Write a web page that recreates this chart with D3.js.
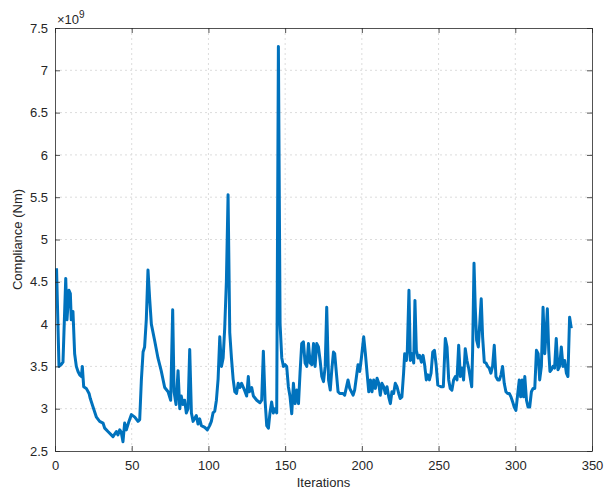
<!DOCTYPE html>
<html>
<head>
<meta charset="utf-8">
<script src="https://cdn.jsdelivr.net/npm/d3@7"></script>
<style>
  html, body { margin: 0; padding: 0; background: #fff; }
  svg { display: block; }
</style>
</head>
<body>
<svg id="chart" width="605" height="490"></svg>
<script>
// ---- Data (compliance in units of 1e9 Nm) ----
const iterations = [
  1, 2.6, 3.9, 5.2, 7, 7.8, 9.1, 10, 10.6, 11.7, 12.8, 13.9, 15, 16.1, 17.2, 17.8, 18.7, 20.4, 22.2, 23,
  24.8, 27, 29.1, 31.3, 32.4, 34.5, 36.7, 37.8, 40, 41, 42.2, 43.2, 44.3, 45.4, 46.5, 48.2, 49.8, 52, 54.1, 55.2,
  56.3, 57.4, 58.4, 59.5, 60.6, 61.7, 62.8, 65, 67.1, 69.2, 71.5, 73.7, 75.4, 76.7, 77.6, 78.9, 80.2, 81.3, 82.3, 83.4,
  84.5, 85.6, 86.7, 87.8, 88.9, 90, 92.1, 93.2, 94.3, 95.4, 97.6, 99.3, 100.8, 101.9, 103, 104.1, 105.2, 106.3, 107.4, 108.5,
  109.6, 110.6, 111.7, 112.8, 113.9, 115, 116.1, 117.2, 118.3, 119.4, 120.5, 121.6, 122.8, 123.9, 124.9, 126, 126.7, 128.2, 129.3, 131.5,
  133.6, 134.7, 135.8, 136.9, 138, 139.1, 140.1, 141.2, 142.3, 143.4, 144.5, 145.6, 146.7, 147.8, 148.9, 150, 151, 152.1, 153.2, 154.3,
  155.4, 156.5, 157.6, 158.7, 159.7, 160.8, 161.9, 163, 164.1, 165.2, 166.3, 167.4, 168.5, 169.5, 170.6, 171.7, 172.8, 173.9, 175, 176.1,
  177.1, 178.3, 179.4, 180.4, 181.5, 182.3, 183.4, 184.5, 185.6, 187.7, 188.8, 191, 192.1, 193.2, 194.3, 195.3, 197.5, 198.6, 199.7, 201.2,
  202.3, 203.4, 204.5, 205.6, 206.6, 207.7, 208.8, 209.9, 211, 212, 213.1, 214.2, 215.3, 216.4, 217.5, 218.6, 219.6, 220.7, 221.8, 222.9,
  224, 225, 226.1, 227.2, 227.9, 229, 229.6, 230.7, 231.6, 232.7, 233.8, 234.6, 235.5, 236.6, 237.7, 238.8, 239.9, 240.9, 242, 243,
  244, 245.1, 246.2, 247.3, 248.4, 249.5, 251.6, 253.1, 254.4, 255.5, 256.6, 257.6, 258.7, 259.8, 260.9, 262, 263.1, 264.2, 265.3, 266.3,
  267.4, 268.5, 269.6, 270.7, 271.6, 272.2, 273.1, 273.9, 274.8, 275.9, 277, 277.8, 278.7, 279.8, 280.9, 282, 283, 284.1, 285.2, 286.3,
  287.4, 288.5, 289.6, 290.7, 291.7, 292.8, 293.9, 295, 296.1, 297.2, 298.3, 299.3, 300.4, 301.5, 302.6, 303.5, 304.5, 305.4, 306.2, 307.3,
  308.3, 309.4, 310.5, 311.6, 312.7, 313.8, 314.9, 315.9, 317, 318.1, 319.2, 320.3, 320.9, 321.8, 322.6, 323.5, 324.6, 325.6, 326.7, 327.8,
  328.9, 330, 331.1, 332.2, 333.3, 334.3, 335.4, 336.5
];
const compliance = [
  4.66, 3.5, 3.52, 3.55, 4.54, 4.05, 4.4, 4.36, 4.05, 4.15, 3.65, 3.5, 3.44, 3.4, 3.38, 3.5, 3.26, 3.24, 3.18, 3.12,
  3.02, 2.9, 2.85, 2.83, 2.77, 2.73, 2.69, 2.67, 2.73, 2.69, 2.75, 2.72, 2.61, 2.83, 2.75, 2.85, 2.93, 2.9, 2.85, 2.87,
  3.34, 3.67, 3.73, 4.05, 4.64, 4.3, 4.0, 3.8, 3.6, 3.45, 3.25, 3.2, 3.1, 4.17, 3.2, 3.05, 3.45, 3.0, 3.15, 3.05,
  3.1, 2.95, 3.0, 3.7, 2.95, 2.85, 2.92, 2.82, 2.88, 2.8, 2.78, 2.75, 2.8, 2.85, 2.95, 2.97, 3.1, 3.35, 3.85, 3.5,
  3.6, 3.95, 4.5, 5.53, 3.9, 3.6, 3.35, 3.2, 3.18, 3.3, 3.25, 3.3, 3.25, 3.2, 3.15, 3.38, 3.2, 3.25, 3.15, 3.1,
  3.07, 3.1, 3.68, 3.1, 2.8, 2.77, 2.95, 3.08, 2.95, 3.0, 2.95, 7.28, 4.0, 3.6, 3.5, 3.52, 3.5, 3.26, 3.14, 2.94,
  3.3, 3.06, 3.22, 3.06, 3.42, 3.77, 3.79, 3.54, 3.5, 3.77, 3.54, 3.52, 3.77, 3.5, 3.77, 3.73, 3.57, 3.38, 3.32, 3.5,
  4.2, 3.34, 3.22, 3.46, 3.67, 3.65, 3.42, 3.2, 3.18, 3.18, 3.16, 3.34, 3.24, 3.2, 3.16, 3.22, 3.52, 3.44, 3.6, 3.85,
  3.65, 3.42, 3.2, 3.34, 3.2, 3.34, 3.24, 3.36, 3.3, 3.16, 3.3, 3.26, 3.18, 3.26, 3.14, 3.06, 3.2, 3.18, 3.3, 3.26,
  3.18, 3.12, 3.14, 3.42, 3.65, 3.57, 3.67, 4.4, 3.57, 3.65, 3.54, 4.28, 3.69, 3.6, 3.63, 3.55, 3.63, 3.52, 3.34, 3.4,
  3.34, 3.42, 3.67, 3.69, 3.52, 3.28, 3.26, 3.26, 3.83, 3.73, 3.34, 3.24, 3.22, 3.34, 3.38, 3.34, 3.75, 3.38, 3.48, 3.34,
  3.71, 3.57, 3.48, 3.36, 3.26, 3.69, 4.72, 4.2, 3.81, 3.73, 4.05, 4.3, 3.85, 3.55, 3.54, 3.5, 3.48, 3.42, 3.5, 3.75,
  3.38, 3.34, 3.34, 3.4, 3.5, 3.3, 3.2, 3.18, 3.18, 3.14, 3.08, 3.02, 2.98, 3.16, 3.34, 3.14, 3.34, 3.14, 3.38, 3.1,
  3.02, 3.02, 3.2, 3.24, 3.24, 3.69, 3.65, 3.34, 3.5, 4.2, 3.65, 3.97, 4.18, 3.69, 3.44, 3.46, 3.5, 3.48, 3.83, 3.46,
  3.5, 3.73, 3.5, 3.57, 3.42, 3.38, 4.08, 3.95
];
const xTicks = [0, 50, 100, 150, 200, 250, 300, 350];
const yTicks = [2.5, 3, 3.5, 4, 4.5, 5, 5.5, 6, 6.5, 7, 7.5];
const xLabel = "Iterations";
const yLabel = "Compliance (Nm)";
const exponent = "9";

// ---- Layout ----
const svg = d3.select("#chart");
const L = 55, R = 592, T = 28, B = 451;
const x = d3.scaleLinear().domain([0, 350]).range([L, R]);
const y = d3.scaleLinear().domain([2.5, 7.5]).range([B, T]);
const axisColor = "#262626";
const textColor = "#262626";
const font = "Liberation Sans, Arial, Helvetica, sans-serif";

// grid
const grid = svg.append("g");
grid.selectAll("line.gx").data(xTicks.slice(1, -1)).join("line")
  .attr("x1", d => x(d)).attr("x2", d => x(d)).attr("y1", T).attr("y2", B)
  .attr("stroke", "#dcdcdc").attr("stroke-width", 1).attr("stroke-dasharray", "2,3");
grid.selectAll("line.gy").data(yTicks.slice(1, -1)).join("line")
  .attr("y1", d => y(d)).attr("y2", d => y(d)).attr("x1", L).attr("x2", R)
  .attr("stroke", "#dcdcdc").attr("stroke-width", 1).attr("stroke-dasharray", "2,3");

// data line
const pts = iterations.map((v, i) => [v, compliance[i]]);
svg.append("path")
  .datum(pts)
  .attr("fill", "none")
  .attr("stroke", "#0072BD")
  .attr("stroke-width", 3)
  .attr("stroke-linejoin", "round")
  .attr("d", d3.line().x(d => x(d[0])).y(d => y(d[1])));

// axes (MATLAB-like box with inward ticks on all sides)
const tickLen = 5;
const xAxisB = d3.axisBottom(x).tickValues(xTicks).tickSizeInner(-tickLen).tickSizeOuter(0).tickPadding(10).tickFormat(d3.format("d"));
const xAxisT = d3.axisTop(x).tickValues(xTicks).tickSizeInner(-tickLen).tickSizeOuter(0).tickFormat("");
const yAxisL = d3.axisLeft(y).tickValues(yTicks).tickSizeInner(-tickLen).tickSizeOuter(0).tickPadding(7).tickFormat(d => d3.format("")(d));
const yAxisR = d3.axisRight(y).tickValues(yTicks).tickSizeInner(-tickLen).tickSizeOuter(0).tickFormat("");

function styleAxis(g) {
  g.select(".domain").attr("stroke", axisColor).attr("stroke-width", 0.8);
  g.selectAll(".tick line").attr("stroke", axisColor).attr("stroke-width", 0.8);
  g.selectAll(".tick text").attr("fill", textColor).style("font-family", font).style("font-size", "13px");
}
svg.append("g").attr("transform", `translate(0,${B})`).call(xAxisB).call(styleAxis);
svg.append("g").attr("transform", `translate(0,${T})`).call(xAxisT).call(styleAxis);
svg.append("g").attr("transform", `translate(${L},0)`).call(yAxisL).call(styleAxis);
svg.append("g").attr("transform", `translate(${R},0)`).call(yAxisR).call(styleAxis);

// labels
svg.append("text")
  .attr("x", (L + R) / 2).attr("y", 487)
  .attr("text-anchor", "middle")
  .attr("fill", textColor)
  .style("font-family", font).style("font-size", "13px")
  .text(xLabel);

svg.append("text")
  .attr("transform", `translate(22,${(T + B) / 2}) rotate(-90)`)
  .attr("text-anchor", "middle")
  .attr("fill", textColor)
  .style("font-family", font).style("font-size", "13px")
  .text(yLabel);

// exponent label
const ex = svg.append("text")
  .attr("x", L + 2).attr("y", 24)
  .attr("fill", textColor)
  .style("font-family", font).style("font-size", "13px");
ex.append("tspan").text("\u00D710");
ex.append("tspan").attr("dy", -6).style("font-size", "10px").text(exponent);
</script>
</body>
</html>
